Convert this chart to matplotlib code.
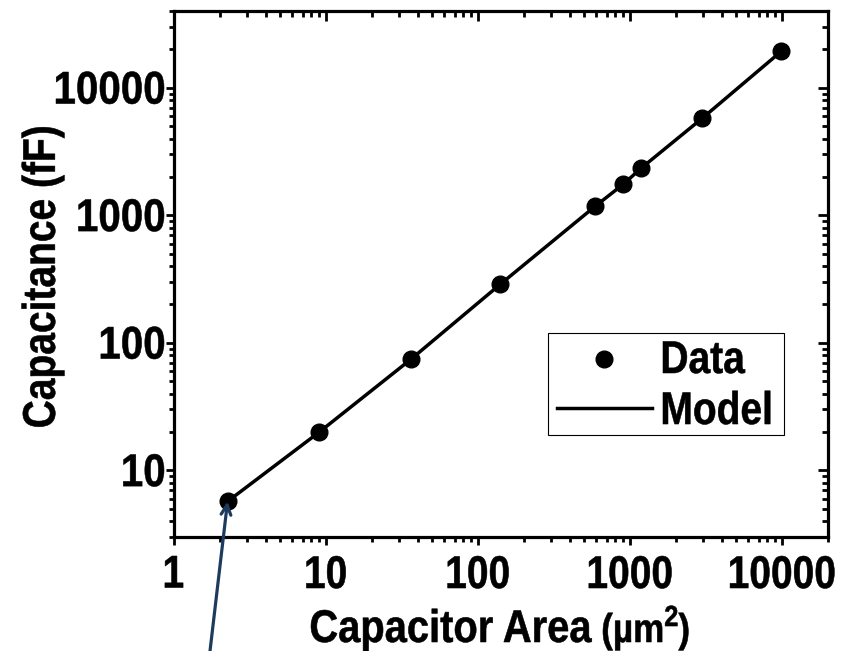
import matplotlib
matplotlib.use('Agg')
import matplotlib.pyplot as plt
import matplotlib.ticker as ticker
import matplotlib.transforms as mtransforms
from matplotlib.textpath import TextPath, text_to_path
from matplotlib.font_manager import FontProperties
from matplotlib.patches import PathPatch, Rectangle
from matplotlib.path import Path
from matplotlib.lines import Line2D

# measured capacitance vs. plate area
area = [2.25, 9, 36, 140, 590, 900, 1180, 2980, 9850]          # um^2
cap = [5.7, 19.9, 74, 288, 1180, 1750, 2340, 5770, 19300]       # fF
# model curve evaluated at the same areas
model_area = area
model_cap = [5.7, 19.9, 74, 288, 1180, 1750, 2340, 5770, 19300]

x_ticks = [1, 10, 100, 1000, 10000]
y_ticks = [10, 100, 1000, 10000]

DPI = 100
W, H = 846, 651
fig = plt.figure(figsize=(W / DPI, H / DPI), dpi=DPI)
ax = fig.add_axes([174 / W, 114 / H, 654 / W, 526 / H])


def text_path(pieces):
    """Join (string, size_pt, raise_pt) pieces into one bold path, in pixels."""
    paths, x = [], 0.0
    for s, size, dy in pieces:
        prop = FontProperties(family='Liberation Sans', weight='bold', size=size * DPI / 72)
        paths.append(TextPath((x, dy * DPI / 72), s, prop=prop))
        x += text_to_path.get_text_width_height_descent(s, prop, ismath=False)[0]
    return Path.make_compound_path(*paths)


def narrow_text(x, y, pieces, trans, ha='center', va='baseline', rot=0,
                off=(0, 0), squeeze=0.85, zorder=6):
    # condensed bold text drawn as a path anchored at (x, y) in `trans`
    if isinstance(pieces, str):
        pieces = [(pieces, 33, 0)]
    path = text_path(pieces)
    ext = path.get_extents()
    dx = {'left': -ext.x0, 'center': -(ext.x0 + ext.x1) / 2, 'right': -ext.x1}[ha]
    dy = {'baseline': 0, 'top': -ext.y1, 'center': -(ext.y0 + ext.y1) / 2,
          'bottom': -ext.y0}[va]
    t = (mtransforms.Affine2D().translate(dx, dy).scale(squeeze, 1).rotate_deg(rot)
         .translate(*off) + mtransforms.ScaledTranslation(x, y, trans))
    patch = PathPatch(path, transform=t, facecolor='k', edgecolor='k', lw=0.4,
                      zorder=zorder)
    fig.add_artist(patch)
    return patch


ax.plot(model_area, model_cap, '-', color='k', lw=2.5, zorder=2)
ax.plot(area, cap, 'o', color='k', ms=12, zorder=3)

ax.set_xscale('log')
ax.set_yscale('log')
ax.set_xlim(1, 20000)
ax.set_ylim(3, 40000)
ax.set_xticks(x_ticks)
ax.set_yticks(y_ticks)

for s in ax.spines.values():
    s.set_linewidth(2.3)
ax.tick_params(which='both', direction='out', width=2, top=False, right=False,
               labelbottom=False, labelleft=False)
ax.tick_params(which='major', length=6)
ax.tick_params(which='minor', length=3.6)

# mirrored ticks on top and right, pointing inward
axr = ax.twinx()
axr.set_yscale('log')
axr.set_ylim(ax.get_ylim())
axr.yaxis.set_major_locator(ticker.FixedLocator(y_ticks))
axr.tick_params(which='both', direction='in', width=2, labelright=False)
axr.tick_params(which='major', length=7)
axr.tick_params(which='minor', length=4.5)
axt = ax.twiny()
axt.set_xscale('log')
axt.set_xlim(ax.get_xlim())
axt.xaxis.set_major_locator(ticker.FixedLocator(x_ticks))
axt.tick_params(which='both', direction='in', width=2, labeltop=False)
axt.tick_params(which='major', length=7)
axt.tick_params(which='minor', length=4.5)
for a in (axr, axt):
    for s in a.spines.values():
        s.set_visible(False)

# tick labels
xlab_trans = mtransforms.blended_transform_factory(ax.transData, ax.transAxes)
for v in x_ticks:
    narrow_text(v, 0, f'{v:g}', xlab_trans, ha='center', va='top', off=(0, -19))
ylab_trans = mtransforms.blended_transform_factory(ax.transAxes, ax.transData)
for v in y_ticks:
    narrow_text(0, v, f'{v:g}', ylab_trans, ha='right', va='center', off=(-10, 0),
                squeeze=0.88)

# axis titles
narrow_text(43 / W, (H - 277) / H, 'Capacitance (fF)', fig.transFigure,
            ha='center', va='center', rot=90)
narrow_text(311 / W, (H - 642) / H,
            [('Capacitor Area', 33, 0), (' (µm', 29, 0), ('2', 21, 11.5), (')', 29, 0)],
            fig.transFigure, ha='left', va='baseline', squeeze=0.87)

# legend box
ax.add_patch(Rectangle((0.5719, 0.1939), 0.3608, 0.1939, transform=ax.transAxes,
                       facecolor='white', edgecolor='k', lw=0.8, zorder=5, clip_on=False))
ax.add_line(Line2D([0.6575], [0.3384], marker='o', ms=12, color='k',
                   transform=ax.transAxes, zorder=6, clip_on=False))
ax.add_line(Line2D([0.5856, 0.7309], [0.2452, 0.2452], lw=2.5, color='k',
                   transform=ax.transAxes, zorder=6, clip_on=False))
narrow_text(0.7477, 0.3118, 'Data', ax.transAxes, ha='left', va='baseline')
narrow_text(0.7477, 0.2148, 'Model', ax.transAxes, ha='left', va='baseline')

# arrow pointing at the smallest device
ax.annotate('', xy=(area[0], cap[0]), xycoords='data',
            xytext=(210 / W, 0.0), textcoords='figure fraction',
            arrowprops=dict(arrowstyle='->, head_length=0.7, head_width=0.35',
                            color='#1d3a5f', lw=2.3, shrinkA=0, shrinkB=0),
            annotation_clip=False)

fig.savefig('out.png', dpi=DPI)
